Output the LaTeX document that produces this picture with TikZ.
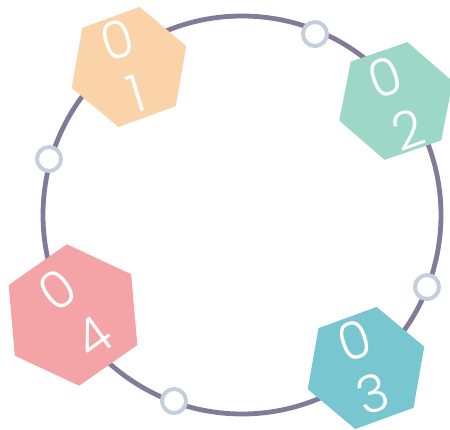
\documentclass[tikz,border=0pt]{standalone}
\usepackage{fontspec}
\IfFontExistsTF{Poppins Light}{\setmainfont{Poppins Light}}{\setmainfont{Poppins}}
\usetikzlibrary{shapes.geometric}
\definecolor{ringc}{HTML}{847A98}
\definecolor{dotc}{HTML}{C5CFDB}
\definecolor{peach}{HTML}{FAD3A8}
\definecolor{mint}{HTML}{9DD8C6}
\definecolor{teal}{HTML}{78C6CF}
\definecolor{pink}{HTML}{F4A4A6}
\tikzset{
  hexa/.style={regular polygon, regular polygon sides=6, inner sep=0pt, draw=none},
  dot/.style={circle, draw=dotc, line width=4pt, fill=white, minimum size=24pt, inner sep=0pt},
  digit/.style={text=white, font=\fontsize{52}{52}\selectfont, inner sep=0pt}
}
\begin{document}
\begin{tikzpicture}[x=1pt,y=1pt]
\useasboundingbox (0,0) rectangle (450,430);
\node[circle, draw=ringc, line width=4.8pt, minimum size=398pt, inner sep=0pt] (ring) at (242,215) {};
\node[dot] (p1) at (315,396) {};
\node[dot] (p2) at (49,271) {};
\node[dot] (p3) at (427,143) {};
\node[dot] (p4) at (174,29) {};
\node[hexa, fill=peach, minimum size=122pt, rotate=20] (h1) at (129,363) {};
\node[hexa, fill=mint, minimum size=120pt, rotate=19] (h2) at (396,329) {};
\node[hexa, fill=teal, minimum size=124pt, rotate=20] (h3) at (366,62) {};
\node[hexa, fill=pink, minimum size=142pt, rotate=35] (h4) at (73,115) {};
\node[digit, rotate=17] (d1a) at (117,390) {0};
\node[digit, rotate=17] (d1b) at (136,337) {1};
\node[digit, rotate=20] (d2a) at (385,353) {0};
\node[digit, rotate=20] (d2b) at (408,300) {2};
\node[digit, rotate=19] (d3a) at (355,90) {0};
\node[digit, rotate=19] (d3b) at (373,36) {3};
\node[digit, rotate=36] (d4a) at (57,140) {0};
\node[digit, rotate=36] (d4b) at (93,93) {4};
\end{tikzpicture}
\end{document}
